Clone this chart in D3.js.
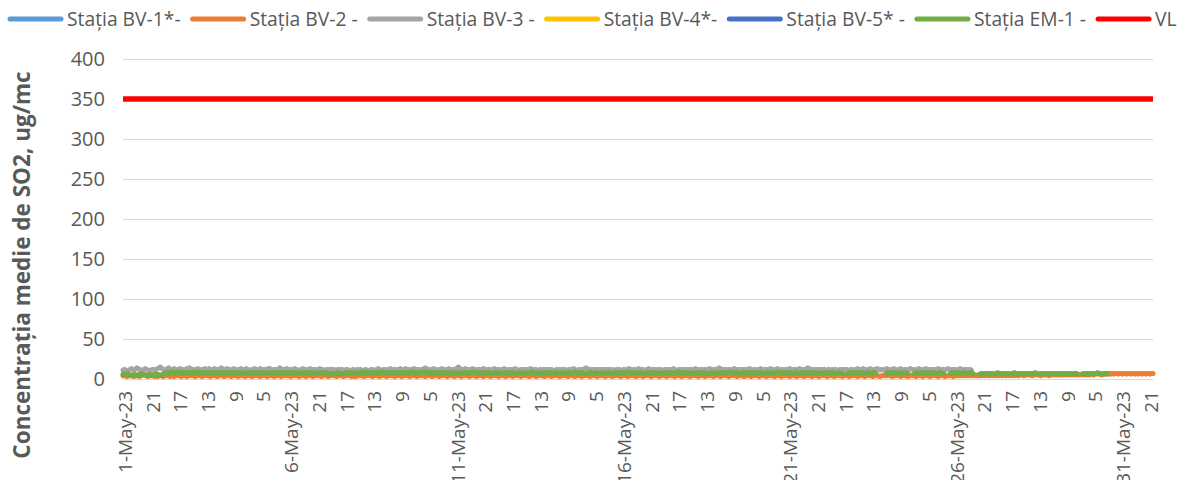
<!DOCTYPE html>
<html><head><meta charset="utf-8">
<script src="https://cdn.jsdelivr.net/npm/d3@7"></script>
<style>body{margin:0;background:#fff}svg{display:block}</style>
</head><body><svg id="c" width="1187" height="480"></svg>
<script>
const seriesNames = ["Stația BV-1*-", "Stația BV-2 -", "Stația BV-3 -", "Stația BV-4*-", "Stația BV-5* -", "Stația EM-1 -", "VL"];
const seriesColors = ["#5B9BD5", "#ED7D31", "#A5A5A5", "#FFC000", "#4472C4", "#70AD47", "#FF0000"];
const yTicks = [0, 50, 100, 150, 200, 250, 300, 350, 400];
const tickLabels = ["1-May-23","21","17","13","9","5","6-May-23","21","17","13","9","5","11-May-23","21","17","13","9","5","16-May-23","21","17","13","9","5","21-May-23","21","17","13","9","5","26-May-23","21","17","13","9","5","31-May-23","21"];
const hoursCount = 744;
const tickEvery = 20;
const vlValue = 350;
const bv1 = [];
const bv4 = [];
const bv5 = [];
const bv2 = [
[4,5,4,3,4,5,4,4,3,4,5,4,3,4,5,6,5,4,3,4,4,5,4,3],
[4,3,4,5,4,3,4,4,5,4,3,4,4,3,4,5,4,4,3,4,5,4,3,4],
[4,5,4,4,3,4,4,5,4,3,4,4,5,4,4,3,4,5,4,4,3,4,4,5],
[4,3,4,4,5,4,3,4,5,4,4,3,4,4,5,4,3,4,4,5,4,3,4,4],
[5,4,4,3,4,5,4,4,3,4,5,4,4,3,4,4,5,4,3,4,4,5,4,4],
[4,3,4,4,5,4,4,3,4,4,5,4,3,4,5,4,4,3,4,4,5,4,4,3],
[4,4,5,4,3,4,4,5,4,4,3,4,4,5,4,3,4,4,5,4,4,3,4,4],
[3,4,4,5,4,4,3,4,4,5,4,4,3,4,5,4,4,3,4,4,5,4,3,4],
[4,5,4,4,3,4,4,5,4,3,4,4,5,4,4,3,4,5,4,4,3,4,4,5],
[4,4,3,4,5,4,4,3,4,4,5,4,3,4,4,5,4,4,3,4,5,4,4,3],
[4,4,5,4,3,4,4,5,4,4,3,4,5,4,4,3,4,4,5,4,3,4,4,5],
[4,3,4,4,5,4,4,3,4,5,4,4,3,4,4,5,4,3,4,4,5,4,4,3],
[4,4,5,4,4,3,4,4,5,4,3,4,4,5,4,4,3,4,5,4,4,3,4,4],
[5,4,4,3,4,4,5,4,4,3,4,5,4,4,3,4,4,5,4,3,4,4,5,4],
[4,3,4,5,4,4,3,4,4,5,4,4,3,4,5,4,4,3,4,4,5,4,4,3],
[4,4,5,4,3,4,4,5,4,4,3,4,4,5,4,3,4,4,5,4,4,3,4,4],
[5,4,4,3,4,5,4,4,3,4,4,5,4,4,3,4,5,4,4,3,4,4,5,4],
[4,3,4,4,5,4,4,3,4,5,4,4,3,4,4,5,4,4,3,4,5,4,4,3],
[4,4,5,4,4,3,4,4,5,4,4,3,4,5,4,4,3,4,4,5,4,3,4,4],
[5,4,4,3,4,4,5,4,3,4,4,5,4,4,3,4,5,4,4,3,4,4,5,4],
[4,3,4,5,4,4,3,4,4,5,4,3,4,4,5,4,4,3,4,5,4,4,3,4],
[4,5,4,4,3,4,5,4,4,3,4,4,5,4,4,3,4,5,4,4,3,4,4,5],
[4,4,3,4,5,4,4,3,4,4,5,4,4,3,4,5,4,4,3,4,4,5,4,4],
[5,4,4,3,4,4,5,4,4,3,4,5,4,4,3,4,4,5,4,4,3,4,5,4],
[4,3,4,5,4,4,3,4,4,5,4,4,3,4,5,4,4,3,4,4,5,4,4,3],
[4,5,4,4,5,4,4,5,4,5,4,4,5,4,4,5,4,5,4,4,5,5,4,5],
[5,4,5,5,4,5,5,4,5,5,4,5,5,4,5,5,4,5,5,4,5,5,4,5],
[5,5,4,5,5,6,5,5,4,5,5,6,5,5,4,5,5,6,5,5,4,5,6,5],
[5,6,5,5,6,5,5,6,5,6,5,5,6,5,6,5,5,6,5,6,6,5,6,5],
[6,5,6,6,5,6,6,7,6,6,5,6,6,7,6,6,7,6,7,6,7,7,6,7],
[7,6,7,7,6,7,7,6,7,7,6,7,6,7,7,6,7,7,6,7,7,6,7,7]
].flat();
const bv3 = [
[11,12,11,10,11,12,13,12,11,12,14,13,12,11,11,12,13,12,11,10,11,12,12,11],
[12,13,14,15,13,12,11,12,13,14,12,11,12,13,12,11,12,13,12,12,11,12,13,12],
[14,13,12,12,11,12,13,12,11,12,12,13,11,12,13,12,11,12,13,12,11,12,13,14],
[12,11,12,13,12,12,11,12,13,12,11,12,12,13,12,11,12,13,12,11,11,12,12,13],
[12,11,12,13,12,11,12,11,12,13,13,12,11,12,12,11,12,14,13,12,11,12,13,12],
[11,12,11,12,13,12,11,11,12,12,13,12,11,12,12,13,12,11,12,12,11,12,13,12],
[12,11,11,12,12,11,12,11,12,11,11,12,12,11,12,11,11,12,12,11,10,11,12,11],
[11,12,11,12,11,10,11,12,11,10,11,12,12,11,11,12,13,12,11,11,12,12,11,12],
[12,13,12,11,12,12,11,12,13,12,11,12,13,12,12,11,12,12,13,12,11,12,12,11],
[12,13,14,13,12,12,11,12,13,12,12,11,12,12,13,12,12,11,12,13,12,11,12,12],
[12,14,15,13,12,11,12,13,12,12,11,12,13,12,12,11,12,12,11,12,13,12,12,11],
[12,11,12,12,13,12,11,12,12,11,12,13,12,11,12,12,11,12,12,13,12,11,11,12],
[12,11,12,12,11,12,13,12,11,12,12,11,11,12,11,12,12,11,12,11,12,12,11,11],
[11,12,11,12,11,12,11,12,11,11,12,11,12,13,12,11,11,12,12,11,12,13,14,13],
[12,11,12,12,11,12,11,12,11,12,12,11,12,11,12,12,11,12,11,11,12,11,12,11],
[11,12,12,11,12,13,12,12,11,12,11,12,13,12,11,12,11,11,12,13,12,11,12,12],
[11,12,11,12,12,11,11,12,11,12,12,11,12,13,12,11,11,12,11,12,11,12,11,12],
[11,12,12,11,12,13,12,11,12,12,11,12,12,11,12,13,12,12,11,12,12,13,14,13],
[12,11,12,12,11,12,12,11,12,13,12,11,12,11,12,12,11,12,11,12,13,12,11,12],
[12,11,12,12,13,12,11,12,12,11,12,13,12,12,11,12,13,12,11,12,12,11,12,12],
[12,13,12,12,11,12,11,12,13,12,11,12,12,13,14,13,12,12,11,12,11,12,12,11],
[12,11,12,11,11,12,11,12,12,11,12,11,11,12,12,11,12,11,12,11,11,12,12,11],
[12,12,13,12,11,12,13,12,12,11,12,13,12,11,12,12,13,12,11,12,12,11,12,13],
[12,11,12,12,13,12,11,12,12,13,12,11,12,12,11,12,13,12,12,11,12,12,13,12],
[12,11,12,13,12,12,11,12,12,11,12,12,13,12,11,12,12,11,12,13,12,11,12,12],
[12,11,12,12,13,12,11,12,12,11,12,12,11]
].flat();
const em1 = [
[6,5,6,7,6,5,4,5,6,5,4,5,6,7,6,5,5,4,5,6,5,4,5,6],
[5,6,5,4,5,6,7,8,8,7,8,9,8,8,7,8,9,8,8,7,8,8,7,8],
[8,7,8,8,9,8,7,8,8,7,7,8,8,7,8,8,7,8,8,7,8,8,7,8],
[8,7,8,8,7,7,8,8,7,8,8,7,8,8,7,7,8,7,7,8,8,7,7,8],
[7,8,8,7,7,8,7,7,8,8,7,7,8,8,7,8,8,7,7,8,8,7,8,8],
[7,8,7,8,8,7,7,8,7,7,8,8,7,7,8,7,8,8,7,7,8,7,7,8],
[7,8,8,7,7,6,7,7,6,7,7,8,7,7,6,7,7,8,8,7,8,8,7,7],
[8,7,7,8,8,7,8,9,8,7,8,8,7,7,8,8,7,8,8,9,8,7,7,8],
[8,7,8,8,7,8,8,7,7,8,8,7,8,8,7,8,8,9,8,8,7,8,8,7],
[8,9,9,8,8,7,8,8,7,8,8,7,7,8,8,7,7,8,8,7,8,7,7,8],
[7,8,8,7,6,7,8,8,7,7,8,8,9,8,7,8,8,7,7,8,8,7,8,8],
[8,7,6,7,8,8,7,8,8,7,6,7,8,8,7,7,8,8,7,6,7,8,8,7],
[7,8,8,7,7,8,8,9,8,7,7,8,8,7,6,7,8,8,7,7,8,8,7,7],
[8,8,7,6,7,8,8,7,7,8,8,7,7,8,9,8,8,7,7,8,8,7,6,7],
[8,8,7,7,8,8,7,7,6,7,8,8,7,7,8,8,7,6,7,8,8,7,7,8],
[8,7,7,8,8,9,8,7,7,8,8,7,7,8,8,7,6,7,8,8,7,7,8,8],
[7,7,8,8,7,6,7,8,8,7,7,8,8,7,7,8,8,9,8,7,7,8,8,7],
[7,8,8,7,6,7,8,8,7,7,8,8,7,7,6,7,8,8,7,7,8,8,7,7],
[8,8,7,7,8,8,9,8,7,7,8,8,7,6,7,8,8,7,7,8,8,7,7,8],
[8,7,7,8,8,7,6,7,8,8,7,7,8,8,7,7,8,9,8,7,7,8,8,7],
[7,8,8,7,7,8,8,7,6,7,8,8,7,7,8,8,7,7,8,8,7,6,7,8],
[8,7,7,8,8,7,7,8,8,7,6,7,8,8,7,7,null,null,null,7,8,8,7,7],
[8,8,7,7,8,8,7,6,7,8,8,7,7,8,8,7,null,null,null,null,null,null,null,7],
[8,7,7,8,8,7,7,8,8,7,6,7,8,8,7,null,null,null,null,7,8,8,7,7],
[8,8,7,7,8,8,7,7,8,8,7,6,7,8,8,7,7,null,null,null,null,7,8,8],
[7,7,8,8,7,7,8,8,7,6,7,8,8,7,null,null,null,null,6,7,7,6,7,7],
[7,6,7,7,6,7,7,8,7,7,6,7,7,6,7,7,6,7,7,8,7,7,6,7],
[7,6,7,7,6,7,7,6,7,7,8,7,7,6,7,7,6,7,7,6,7,7,6,7],
[7,6,7,7,6,7,7,6,7,7,6,7,7,6,7,7,7,null,null,null,6,7,7,6],
[7,6,7,7,6,7,7,8,7,7,6,7,7,6,7]
].flat();
const seriesData = [bv1, bv2, bv3, bv4, bv5, em1];

const svg = d3.select("#c");
const plotLeft = 123, plotRight = 1153, plotTop = 59, plotBottom = 379;
const textColor = "#595959";
const font = "'Open Sans', sans-serif";

const x = d3.scalePoint().domain(d3.range(hoursCount)).range([plotLeft, plotRight]);
const y = d3.scaleLinear().domain([0, 400]).range([plotBottom, plotTop]);

// gridlines
svg.append("g").selectAll("line").data(yTicks).join("line")
  .attr("x1", plotLeft).attr("x2", plotRight)
  .attr("y1", d => y(d) + 0.5).attr("y2", d => y(d) + 0.5)
  .attr("stroke", "#D9D9D9").attr("stroke-width", 1);

// y tick labels
svg.append("g").selectAll("text").data(yTicks).join("text")
  .attr("x", 105).attr("y", d => y(d)).attr("dy", "0.36em")
  .attr("text-anchor", "end").attr("font-family", font).attr("font-size", 20)
  .attr("fill", textColor).text(d => d);

// x tick labels
svg.append("g").selectAll("text").data(tickLabels).join("text")
  .attr("transform", (d, i) => `translate(${x(i * tickEvery) + 2},391) rotate(-90)`)
  .attr("dy", "0.36em").attr("text-anchor", "end")
  .attr("font-family", font).attr("font-size", 19).attr("fill", textColor)
  .text(d => d);

// y axis title
svg.append("text")
  .attr("transform", "translate(22,265) rotate(-90)")
  .attr("dy", "0.36em").attr("text-anchor", "middle")
  .attr("font-family", font).attr("font-weight", "bold").attr("font-size", 22.5)
  .attr("fill", textColor).text("Concentrația medie de SO2, ug/mc");

// series lines
const line = d3.line()
  .defined(d => d[1] != null)
  .x(d => x(d[0])).y(d => y(d[1]));
seriesData.forEach((arr, k) => {
  const pts = arr.map((v, i) => [i, v]);
  if (!pts.length) return;
  svg.append("path").datum(pts)
    .attr("d", line).attr("fill", "none")
    .attr("stroke", seriesColors[k]).attr("stroke-width", 5)
    .attr("stroke-linejoin", "round").attr("stroke-linecap", "round");
});
// VL limit line
svg.append("line")
  .attr("x1", x(0)).attr("x2", x(hoursCount - 1))
  .attr("y1", y(vlValue)).attr("y2", y(vlValue))
  .attr("stroke", seriesColors[6]).attr("stroke-width", 5.5);

// legend
const lg = svg.append("g");
let lx = 8;
const ly = 19;
seriesNames.forEach((name, k) => {
  lg.append("line").attr("x1", lx + 2).attr("x2", lx + 53).attr("y1", ly).attr("y2", ly)
    .attr("stroke", seriesColors[k]).attr("stroke-width", 5).attr("stroke-linecap", "round");
  const t = lg.append("text").attr("x", lx + 59).attr("y", ly).attr("dy", "0.36em")
    .attr("font-family", font).attr("font-size", 19.3).attr("fill", textColor).text(name);
  lx += 59 + t.node().getComputedTextLength() + 10;
});
</script>
</body></html>
